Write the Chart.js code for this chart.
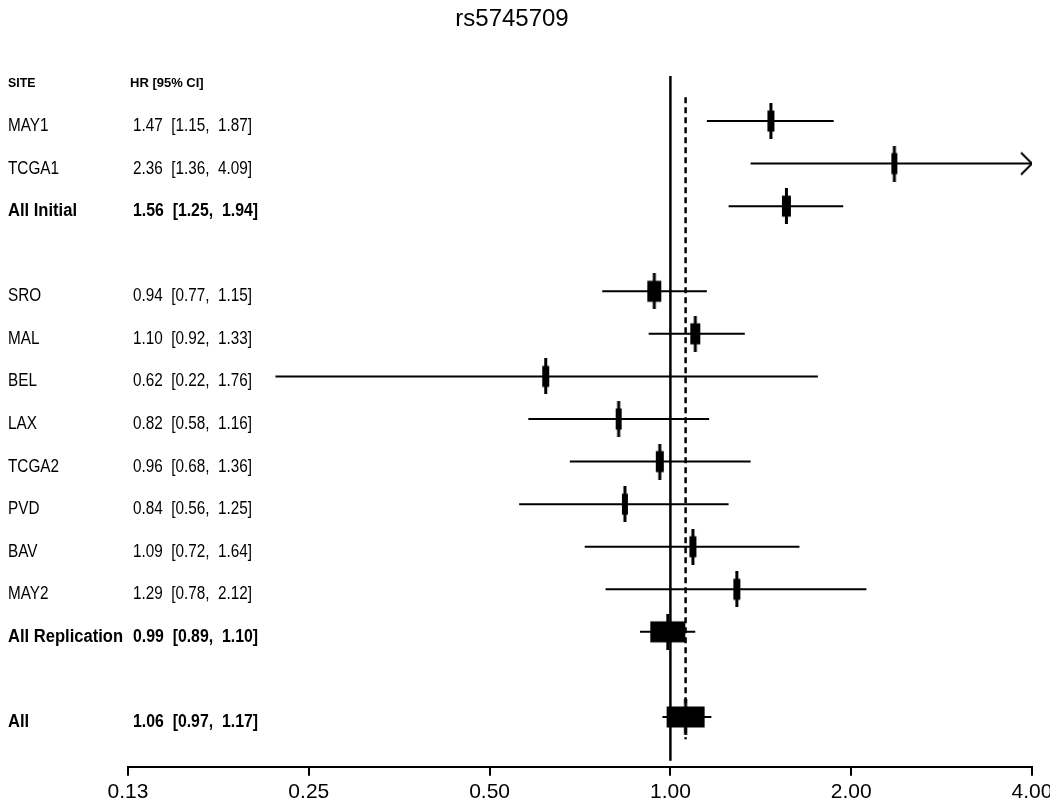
<!DOCTYPE html>
<html>
<head>
<meta charset="utf-8">
<title>rs5745709</title>
<script src="https://cdn.jsdelivr.net/npm/chart.js@4.4.1/dist/chart.umd.min.js"></script>
<style>
  html, body { margin: 0; padding: 0; background: #fff; overflow: hidden; }
  #wrap { width: 1050px; height: 803px; overflow: hidden; }
</style>
</head>
<body>
<div id="wrap"><canvas id="grafica" width="1050" height="809"></canvas></div>
<script>
// datos
const titulo = 'rs5745709';
const sites = ['MAY1', 'TCGA1', 'All Initial', 'SRO', 'MAL', 'BEL', 'LAX', 'TCGA2', 'PVD', 'BAV', 'MAY2', 'All Replication', 'All'];
const rows = [15, 14, 13, 11, 10, 9, 8, 7, 6, 5, 4, 3, 1];
const hr = [1.47, 2.36, 1.56, 0.94, 1.10, 0.62, 0.82, 0.96, 0.84, 1.09, 1.29, 0.99, 1.06];
const ciLow = [1.15, 1.36, 1.25, 0.77, 0.92, 0.22, 0.58, 0.68, 0.56, 0.72, 0.78, 0.89, 0.97];
const ciHigh = [1.87, 4.09, 1.94, 1.15, 1.33, 1.76, 1.16, 1.36, 1.25, 1.64, 2.12, 1.10, 1.17];
const summary = [false, false, true, false, false, false, false, false, false, false, false, true, true];
const headerRow = 16;
const xTicks = [0.125, 0.25, 0.5, 1, 2, 4];
const xTickLabels = ['0.13', '0.25', '0.50', '1.00', '2.00', '4.00'];
const overallHR = hr[hr.length - 1];

// estilo
const xMin = 0.125, xMax = 4;
const boxW = [7, 6, 9, 14, 10, 7, 6, 8, 6, 7, 7, 35, 38];
const boxH = 21, stemH = 35;
const fam = "'Liberation Sans', Arial, Helvetica, sans-serif";

function makeBox(w) {
  const c = document.createElement('canvas');
  c.width = w + 4;
  c.height = stemH + 1;
  const g = c.getContext('2d');
  g.fillStyle = '#000';
  g.fillRect(2, (c.height - boxH) / 2, w, boxH);
  g.fillRect(c.width / 2 - 1.5, 0, 3, c.height);
  return c;
}

function makeArrow() {
  const c = document.createElement('canvas');
  c.width = 26; c.height = 26;
  const g = c.getContext('2d');
  g.strokeStyle = '#000';
  g.lineWidth = 2;
  g.beginPath();
  g.moveTo(2, 2); g.lineTo(13, 13); g.lineTo(2, 24);
  g.stroke();
  return c;
}

const boxes = boxW.map(makeBox);
const arrow = makeArrow();

const ciData = [];
hr.forEach((v, i) => {
  ciData.push({x: Math.max(ciLow[i], xMin), y: rows[i]});
  ciData.push({x: Math.min(ciHigh[i], xMax), y: rows[i]});
  ciData.push({x: ciLow[i], y: null});
});
const arrowData = [];
hr.forEach((v, i) => {
  if (ciHigh[i] > xMax) arrowData.push({x: xMax, y: rows[i]});
});

function texto(ctx, txt, x, y, font, sx) {
  ctx.save();
  ctx.translate(x, y);
  ctx.scale(sx, 1);
  ctx.font = font;
  ctx.fillText(txt, 0, 0);
  ctx.restore();
}

const etiquetas = {
  id: 'etiquetas',
  afterDraw(chart) {
    const ctx = chart.ctx;
    const ys = chart.scales.y;
    ctx.save();
    ctx.fillStyle = '#000';
    ctx.textBaseline = 'middle';
    ctx.textAlign = 'center';
    ctx.font = '24px ' + fam;
    ctx.fillText(titulo, 512, 19);
    ctx.textAlign = 'left';
    const yh = ys.getPixelForValue(headerRow) + 5;
    texto(ctx, 'SITE', 8, yh, 'bold 13px ' + fam, 0.95);
    texto(ctx, 'HR [95% CI]', 130, yh, 'bold 13px ' + fam, 1);
    sites.forEach((s, i) => {
      const y = ys.getPixelForValue(rows[i]) + 5;
      const f = (summary[i] ? 'bold ' : '') + '18px ' + fam;
      const sx = summary[i] ? 0.92 : 0.85;
      const t = hr[i].toFixed(2) + '  [' + ciLow[i].toFixed(2) + ',  ' + ciHigh[i].toFixed(2) + ']';
      texto(ctx, s, 8, y, f, sx);
      texto(ctx, t, 133, y, f, summary[i] ? 0.88 : 0.85);
    });
    ctx.restore();
  }
};

new Chart(document.getElementById('grafica'), {
  type: 'scatter',
  data: {
    datasets: [
      {
        label: 'HR',
        data: hr.map((v, i) => ({x: v, y: rows[i]})),
        pointStyle: (c) => boxes[c.dataIndex],
        pointRadius: 3,
        order: 0
      },
      {
        label: 'flecha',
        data: arrowData,
        pointStyle: arrow,
        pointRadius: 3,
        order: 0
      },
      {
        label: 'IC 95%',
        data: ciData,
        showLine: true,
        spanGaps: false,
        borderColor: '#000',
        borderWidth: 2,
        pointRadius: 0,
        order: 1
      },
      {
        label: 'ref',
        data: [{x: 1, y: 16.06}, {x: 1, y: -0.03}],
        showLine: true,
        borderColor: '#000',
        borderWidth: 2.5,
        pointRadius: 0,
        order: 2
      },
      {
        label: 'global',
        data: [{x: overallHR, y: 15.56}, {x: overallHR, y: 0.48}],
        showLine: true,
        borderColor: '#000',
        borderWidth: 2.5,
        borderDash: [6, 4],
        pointRadius: 0,
        order: 2
      }
    ]
  },
  options: {
    responsive: false,
    animation: false,
    layout: { padding: { left: 128, right: 18, top: 38, bottom: 0 } },
    plugins: {
      legend: { display: false },
      tooltip: { enabled: false },
      title: { display: false }
    },
    scales: {
      x: {
        type: 'logarithmic',
        min: xMin,
        max: xMax,
        bounds: 'data',
        afterBuildTicks: (axis) => { axis.ticks = xTicks.map(v => ({value: v})); },
        afterFit: (axis) => { axis.paddingLeft = 0; axis.paddingRight = 0; },
        ticks: {
          autoSkip: false,
          maxRotation: 0,
          padding: 4,
          color: '#000',
          font: { family: fam, size: 21 },
          callback: (v) => xTickLabels[xTicks.indexOf(v)]
        },
        grid: { display: true, drawOnChartArea: false, drawTicks: true, tickLength: 9, color: '#000', lineWidth: 2 },
        border: { display: true, color: '#000', width: 2 }
      },
      y: {
        type: 'linear',
        min: -0.17,
        max: 16.95,
        display: false
      }
    }
  },
  plugins: [etiquetas]
});
</script>
</body>
</html>
